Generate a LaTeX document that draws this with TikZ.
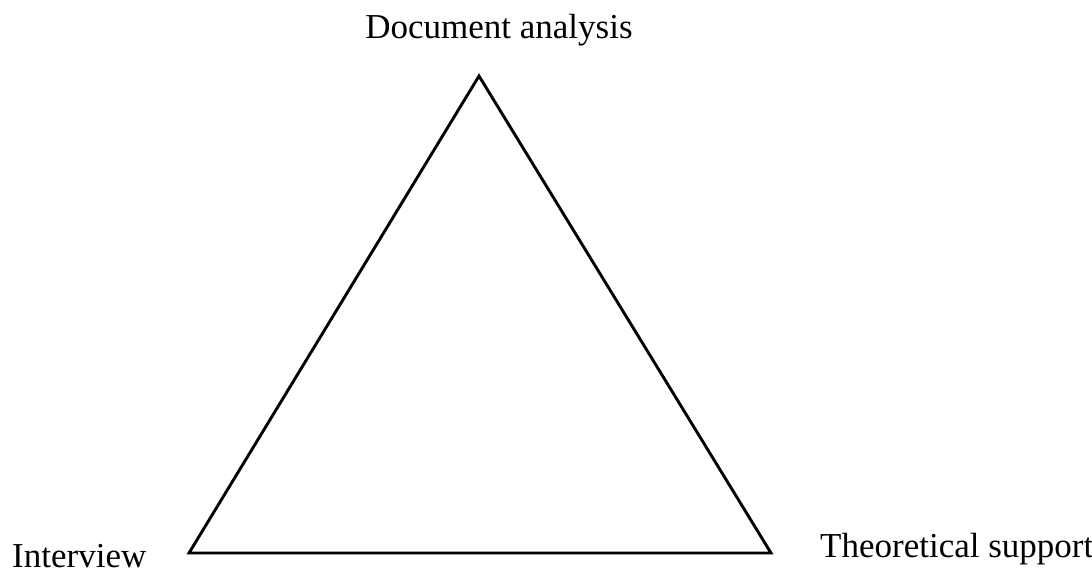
\documentclass[tikz,border=0pt]{standalone}
\usepackage{fontspec}
\setmainfont{Liberation Serif}
\begin{document}
\begin{tikzpicture}[x=1pt,y=-1pt,
  lbl/.style={inner sep=0pt,font=\fontsize{35}{40}\selectfont},
  tri/.style={line width=2.9pt,line join=miter}]
\useasboundingbox (0,0) rectangle (1092,572);
\coordinate (t) at (479,76);
\coordinate (l) at (189,553);
\coordinate (r) at (771,553);
\draw[tri] (t) -- (l) -- (r) -- cycle;
\node[lbl,anchor=base] (da) at (499,39) {Document analysis};
\node[lbl,anchor=base west] (iv) at (12,567) {Interview};
\node[lbl,anchor=base west] (ts) at (820,557) {Theoretical support};
\end{tikzpicture}
\end{document}
